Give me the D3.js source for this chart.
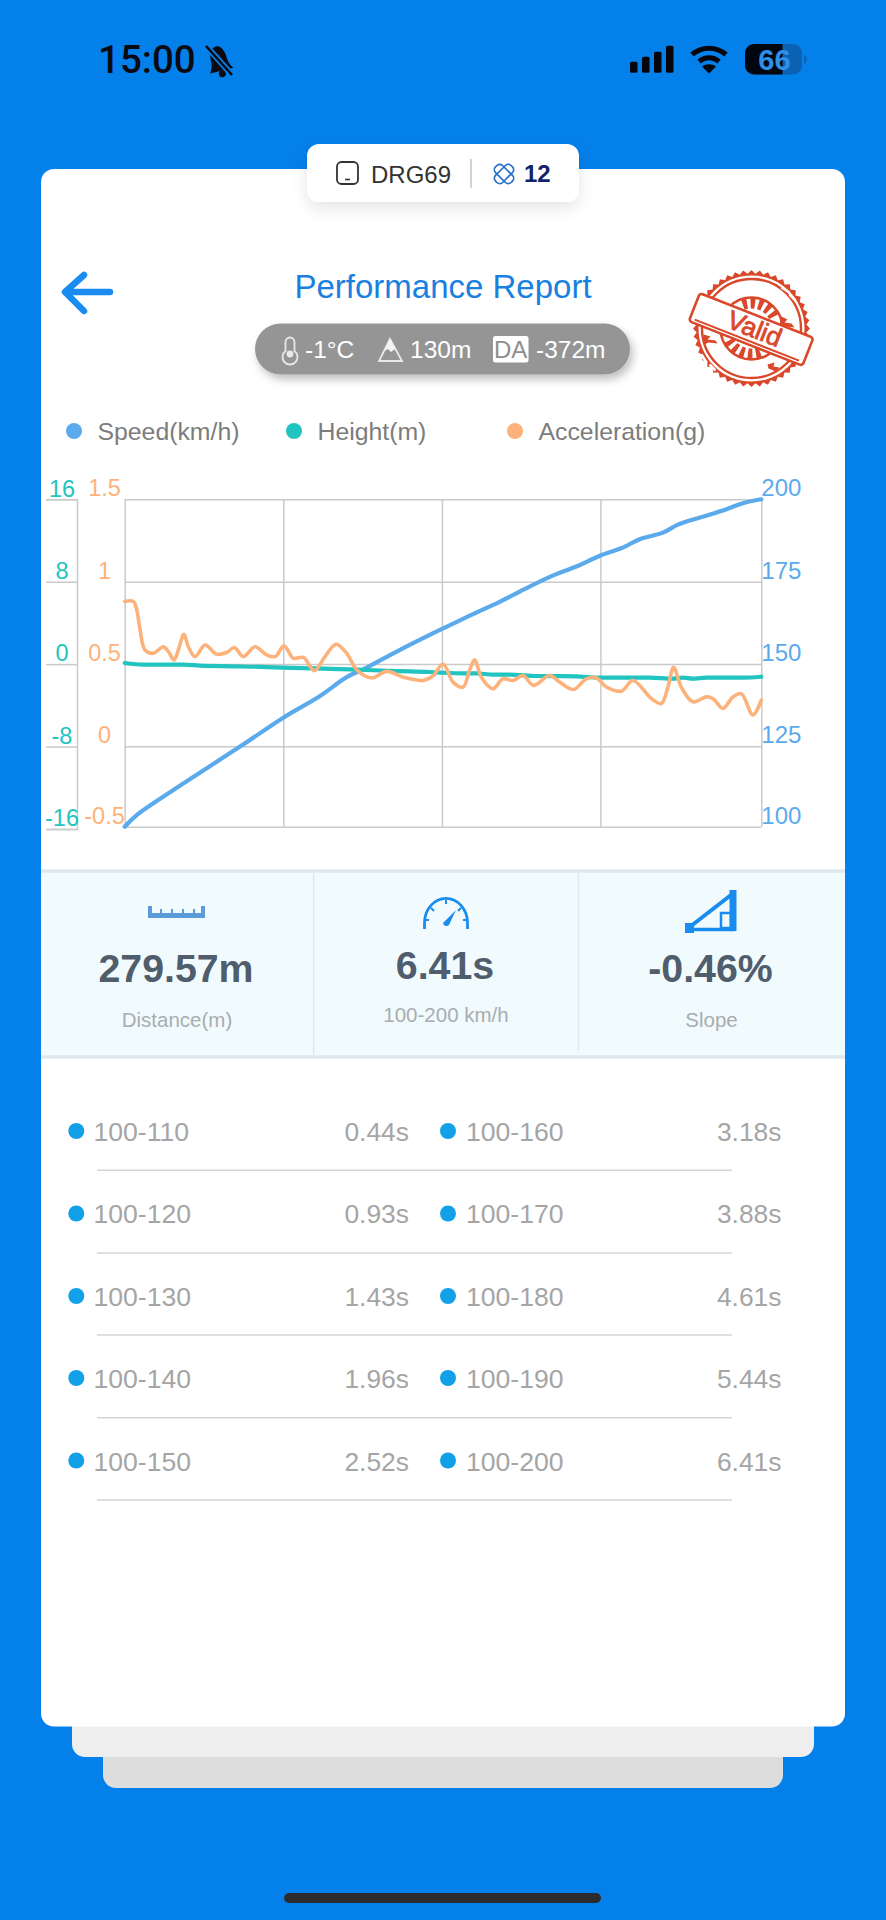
<!DOCTYPE html>
<html>
<head>
<meta charset="utf-8">
<script src="https://cdnjs.cloudflare.com/ajax/libs/d3/7.8.5/d3.min.js"></script>
<style>
html,body{margin:0;padding:0;background:#0480ea;}
svg{display:block;}
text{font-family:"Liberation Sans",Arial,sans-serif;}
</style>
</head>
<body>
<script>
//data
const speedTime=[0,0.121,0.49,1.161,1.597,1.967,2.235,2.436,2.772,3.205,3.406,3.54,3.775,4.01,4.21,4.346,4.547,4.78,5.02,5.185,5.42,5.57,5.82,6.06,6.225,6.41];
const speedValues=[100,103.6,111.4,124.9,133.7,140.3,146,148.9,154.3,160.8,163.7,165.6,168.9,172.5,175.5,177.3,179.6,182.8,185.4,187.9,189.9,192.3,194.7,197,198.8,200];

const heightTime=[0,0.188,0.591,0.758,1.094,1.43,1.597,1.933,2.269,2.436,2.772,3.074,3.205,3.406,3.54,3.708,3.876,4.144,4.547,4.78,5.285,5.52,5.621,5.722,5.856,6.225,6.41];
const heightValues=[0.11,-0.05,-0.05,-0.15,-0.21,-0.28,-0.34,-0.41,-0.5,-0.57,-0.67,-0.76,-0.83,-0.89,-0.89,-1.02,-1.02,-1.15,-1.18,-1.31,-1.31,-1.41,-1.31,-1.41,-1.31,-1.31,-1.22];

const accelTime=[0,0.087,0.121,0.154,0.205,0.289,0.389,0.44,0.497,0.54,0.597,0.641,0.708,0.809,0.926,1.027,1.104,1.195,1.312,1.43,1.514,1.604,1.698,1.799,1.91,2.017,2.128,2.235,2.336,2.487,2.638,2.806,3.007,3.108,3.205,3.306,3.406,3.474,3.524,3.591,3.708,3.809,3.91,4.01,4.118,4.279,4.38,4.52,4.648,4.749,4.85,5,5.118,5.302,5.403,5.47,5.527,5.604,5.722,5.856,5.923,6.024,6.124,6.208,6.326,6.41];
const accelValues=[0.88,0.88,0.83,0.71,0.585,0.565,0.605,0.575,0.525,0.585,0.68,0.605,0.545,0.615,0.56,0.57,0.6,0.545,0.605,0.555,0.545,0.61,0.535,0.54,0.46,0.545,0.62,0.565,0.465,0.415,0.455,0.42,0.4,0.43,0.5,0.39,0.36,0.465,0.525,0.42,0.35,0.41,0.4,0.43,0.37,0.43,0.39,0.345,0.41,0.415,0.36,0.335,0.4,0.29,0.26,0.36,0.48,0.36,0.27,0.3,0.29,0.23,0.3,0.32,0.19,0.28];

const speedTicks=[100,125,150,175,200];
const accelTicks=[-0.5,0,0.5,1,1.5];
const heightTicks=[-16,-8,0,8,16];
const timeTicks=[0,1.597,3.194,4.79,6.41];

const splitNames=["100-110","100-120","100-130","100-140","100-150","100-160","100-170","100-180","100-190","100-200"];
const splitTimes=["0.44s","0.93s","1.43s","1.96s","2.52s","3.18s","3.88s","4.61s","5.44s","6.41s"];

const legendNames=["Speed(km/h)","Height(m)","Acceleration(g)"];
const statValues=["279.57m","6.41s","-0.46%"];
const statNames=["Distance(m)","100-200 km/h","Slope"];

//constants
const w=886;
const h=1920;
const blue="#5aaaec";
const teal="#22c4bf";
const orange="#fdb27c";
const gridColor="#cacaca";
const iconBlue="#1a8cf0";

const svg=d3.select("body").append("svg").attr("width",w).attr("height",h);

const defs=svg.append("defs");
const soft=defs.append("filter").attr("id","soft").attr("x","-30%").attr("y","-50%").attr("width","160%").attr("height","220%");
soft.append("feDropShadow").attr("dx",0).attr("dy",6).attr("stdDeviation",8).attr("flood-color","#000").attr("flood-opacity",0.1);
const pillShadow=defs.append("filter").attr("id","pillShadow").attr("x","-10%").attr("y","-30%").attr("width","120%").attr("height","170%");
pillShadow.append("feDropShadow").attr("dx",3).attr("dy",5).attr("stdDeviation",4).attr("flood-color","#000").attr("flood-opacity",0.25);

//background and cards
svg.append("rect").attr("width",w).attr("height",h).attr("fill","#0480ea");
svg.append("rect").attr("x",103).attr("y",1740).attr("width",680).attr("height",48).attr("rx",13).attr("fill","#dddddd");
svg.append("rect").attr("x",72).attr("y",1710).attr("width",742).attr("height",47).attr("rx",13).attr("fill","#eeeeee");
svg.append("rect").attr("x",41).attr("y",169).attr("width",804).attr("height",1557.5).attr("rx",13).attr("fill","#fff");
svg.append("rect").attr("x",284).attr("y",1893).attr("width",317).attr("height",10).attr("rx",5).attr("fill","#2c2c2e");

//status bar
svg.append("text").attr("x",98).attr("y",72.5).attr("font-size",38.5).text("15:00")
    .style("font-family","Roboto").attr("font-weight",500).attr("fill","#0a0a12");
const bell=svg.append("g").attr("fill","#0a0a12").attr("transform","rotate(-14,219,60)");
bell.append("path").attr("d","M219 46c5 0 8 6 8 13c0 6 2 9 4 12h-24c2-3 4-6 4-12c0-7 3-13 8-13z");
bell.append("circle").attr("cx",219).attr("cy",74).attr("r",3.5);
svg.append("line").attr("x1",207).attr("y1",47).attr("x2",233).attr("y2",76).attr("stroke","#0480ea").attr("stroke-width",6);
svg.append("line").attr("x1",206).attr("y1",46).attr("x2",232).attr("y2",75).attr("stroke","#0a0a12").attr("stroke-width",2.6);

const signal=svg.append("g").attr("fill","#06060c");
[[630,61.7],[642,56.7],[654,51.7],[666,45.7]].forEach(b=>{
    signal.append("rect").attr("x",b[0]).attr("y",b[1]).attr("width",7.5).attr("height",72.7-b[1]).attr("rx",1.5)
});
const wifi=svg.append("g").attr("fill","none").attr("stroke","#06060c").attr("stroke-width",5);
wifi.append("path").attr("d","M692 54.5c10-8.5 24-8.5 34 0");
wifi.append("path").attr("d","M699 61.5c6-5 14-5 20 0");
svg.append("path").attr("d","M702 66.5c4-3 10-3 14 0l-7 7z").attr("fill","#06060c");

svg.append("rect").attr("x",745).attr("y",44).attr("width",57).attr("height",30.5).attr("rx",9).attr("fill","#0b62b2");
svg.append("path").attr("d","M782.5 44h-28.5a9 9 0 0 0 -9 9v12.5a9 9 0 0 0 9 9h28.5z").attr("fill","#02060e");
svg.append("path").attr("d","M804 55a5 5 0 0 1 0 9z").attr("fill","#0b62b2");
svg.append("text").attr("x",774.5).attr("y",70).attr("text-anchor","middle").attr("font-size",29).attr("font-weight",700).attr("fill","#2f8fe8").text("66");

//top tab
svg.append("rect").attr("x",307).attr("y",144).attr("width",272).attr("height",58).attr("rx",12).attr("fill","#fff").attr("filter","url(#soft)");
svg.append("rect").attr("x",337).attr("y",162).attr("width",21).attr("height",22).attr("rx",4.5).attr("fill","none").attr("stroke","#333").attr("stroke-width",1.8);
svg.append("line").attr("x1",345).attr("y1",179.5).attr("x2",350).attr("y2",179.5).attr("stroke","#333").attr("stroke-width",1.6);
svg.append("text").attr("x",371).attr("y",182.5).attr("font-size",24).attr("fill","#333").text("DRG69");
svg.append("line").attr("x1",471).attr("y1",159).attr("x2",471).attr("y2",188).attr("stroke","#bcbcbc").attr("stroke-width",1.3);
const badge=svg.append("g").attr("fill","none").attr("stroke","#2a70c6").attr("stroke-width",1.7).attr("transform","translate(504,174) rotate(45)");
badge.append("rect").attr("x",-11).attr("y",-5).attr("width",22).attr("height",10).attr("rx",4);
badge.append("rect").attr("x",-5).attr("y",-11).attr("width",10).attr("height",22).attr("rx",4);
svg.append("text").attr("x",524).attr("y",182).attr("font-size",24).attr("font-weight",700).attr("fill","#12226a").text("12");

//title row
svg.append("path").attr("d","M110 292H66M84 275L65 292L84 311").attr("fill","none").attr("stroke",iconBlue).attr("stroke-width",6.5).attr("stroke-linecap","round").attr("stroke-linejoin","round");
svg.append("text").attr("x",443).attr("y",298).attr("text-anchor","middle").attr("font-size",33).attr("fill","#1a80e0").text("Performance Report");

//weather pill
svg.append("rect").attr("x",255).attr("y",323.5).attr("width",375).attr("height",51).attr("rx",25.5).attr("fill","#959595").attr("filter","url(#pillShadow)");
const pillText=[["-1°C",305],["130m",410],["-372m",536]];
svg.append("g").selectAll("text").data(pillText).enter().append("text")
    .attr("x",d=>d[1]).attr("y",358).attr("font-size",24.5).attr("fill","#fff").text(d=>d[0]);
const pillIcons=svg.append("g").attr("fill","none").attr("stroke","#e8e8e8").attr("stroke-width",1.8);
pillIcons.append("path").attr("d","M285.5 342a4.5 4.5 0 0 1 9 0v9a7.5 7.5 0 1 1 -9 0z");
pillIcons.append("circle").attr("cx",290).attr("cy",354).attr("r",2.5).attr("fill","#e8e8e8");
pillIcons.append("path").attr("d","M390 339L379 361H402Z");
svg.append("path").attr("d","M390 339L384 351L388 349L391 352L395 349L397 351Z").attr("fill","#f4f4f4");
svg.append("rect").attr("x",493).attr("y",336).attr("width",35.5).attr("height",26.5).attr("rx",2.5).attr("fill","#fff");
svg.append("text").attr("x",510.7).attr("y",357.5).attr("text-anchor","middle").attr("font-size",24).attr("fill","#8e8e8e").text("DA");

//valid stamp
const stampRed="#d9482a";
const stamp=svg.append("g").attr("transform","translate(751.5,328.5)");
const teeth=d3.range(88).map(i=>[i*Math.PI*2/88,i%2?55:58.5]);
stamp.append("path").attr("d",d3.lineRadial().curve(d3.curveLinearClosed)(teeth)).attr("fill",stampRed);
stamp.append("circle").attr("r",53).attr("fill","#fff");
stamp.append("circle").attr("r",49.5).attr("fill","none").attr("stroke",stampRed).attr("stroke-width",2.4);
stamp.append("circle").attr("r",31).attr("fill","none").attr("stroke",stampRed).attr("stroke-width",2.5);
const rays=d3.arc().innerRadius(20).outerRadius(31);
[-36,-18,0,18,36,144,162,180,198,216].forEach(a=>{
    stamp.append("path").attr("transform","rotate(21)")
    .attr("d",rays({startAngle:(a-5)*Math.PI/180,endAngle:(a+5)*Math.PI/180})).attr("fill",stampRed);
});
//worn patches of the stamp
const wornRed="M30 -12l6 3l-3 3l7 1l3 4l-8 -1l-3 3l-4 -5zM-48 6l7 2l-3 3l8 1l2 3l-9 -1l-4 2zM16 36l7 -2l-1 4l6 1l-4 4l-7 -3z";
stamp.append("path").attr("d",wornRed).attr("fill",stampRed);
const wornWhite="M30 -41l8 5M38 -34l6 6M-50 26l5 8M-42 36l6 6";
stamp.append("path").attr("d",wornWhite).attr("fill","none").attr("stroke","#fff").attr("stroke-width",2.5);
const banner=stamp.append("g").attr("transform","rotate(21.5)");
banner.append("rect").attr("x",-61).attr("y",-14).attr("width",122).attr("height",30).attr("rx",3).attr("fill","#fff").attr("stroke",stampRed).attr("stroke-width",2.6);
banner.append("line").attr("x1",-56).attr("y1",12.5).attr("x2",56).attr("y2",12.5).attr("stroke",stampRed).attr("stroke-width",2);
banner.append("text").attr("x",3).attr("y",8).attr("text-anchor","middle").attr("font-size",26).attr("stroke",stampRed).attr("stroke-width",0.8).attr("fill",stampRed).text("Valid");

//legend
const legendX=[74,294,515];
const legendColors=[blue,teal,orange];
const legend=svg.append("g").selectAll("g").data(legendNames).enter().append("g");
legend.append("circle").attr("cx",(d,i)=>legendX[i]).attr("cy",431).attr("r",8).attr("fill",(d,i)=>legendColors[i]);
legend.append("text").attr("x",(d,i)=>legendX[i]+23.5).attr("y",440).attr("font-size",24.8).attr("fill","#7c7c7c").text(d=>d);

//scales
const plotL=124.7,plotR=761.3;
const x=d3.scaleLinear().domain([0,6.41]).range([plotL,plotR]);
//bottom band of the grid is a bit shorter than the others
const bandY=[826.7,746.3,664,581.7,499.3];
const ySpeed=d3.scaleLinear().domain(speedTicks).range(bandY);
const yAccel=d3.scaleLinear().domain(accelTicks).range(bandY);
const yHeight=d3.scaleLinear().domain([-16,16]).range([829,499.3]);

//grid
const grid=svg.append("g");
grid.append("g").attr("class","gridY").attr("transform","translate("+plotR+",0)")
    .call(d3.axisRight(ySpeed).tickValues(speedTicks).tickSize(-(plotR-plotL)).tickSizeOuter(0).tickFormat(d=>d));
grid.append("g").attr("class","gridX").attr("transform","translate(0,"+bandY[0]+")")
    .call(d3.axisBottom(x).tickValues(timeTicks).tickSize(-(bandY[0]-bandY[4])).tickSizeOuter(0).tickFormat(""));
grid.selectAll("line,path").attr("stroke",gridColor).attr("stroke-width",1.5);
grid.selectAll(".domain").remove();
d3.selectAll(".gridY text").attr("x",0).attr("dy",0).attr("y",-3.5)
    .attr("font-size",24).attr("fill",blue).attr("text-anchor","start").style("font-family","Liberation Sans");

//left axes
const heightAxis=svg.append("g").attr("transform","translate(77,0)")
    .call(d3.axisLeft(yHeight).tickValues(heightTicks).tickSize(31).tickFormat(d=>d));
heightAxis.selectAll("line,path").attr("stroke",gridColor).attr("stroke-width",1.5);
heightAxis.selectAll("text").attr("x",-15).attr("dy",0).attr("y",-3.3).attr("text-anchor","middle")
    .attr("font-size",23.5).attr("fill",teal).style("font-family","Liberation Sans");

const accelAxis=svg.append("g").attr("transform","translate(104.5,0)")
    .call(d3.axisLeft(yAccel).tickValues(accelTicks).tickSize(0).tickFormat(d=>d));
accelAxis.select(".domain").remove();
accelAxis.selectAll("text").attr("x",0).attr("dy",0).attr("y",-3.5).attr("text-anchor","middle")
    .attr("font-size",23.5).attr("fill",orange).style("font-family","Liberation Sans");

//lines
const lineOf=(times,scale,curve)=>d3.line().x((d,i)=>x(times[i])).y(d=>scale(d)).curve(curve);
const lines=svg.append("g").attr("fill","none").attr("stroke-linecap","round").attr("stroke-linejoin","round");
lines.append("path").attr("d",lineOf(speedTime,ySpeed,d3.curveCatmullRom)(speedValues)).attr("stroke",blue).attr("stroke-width",4.2);
lines.append("path").attr("d",lineOf(heightTime,yHeight,d3.curveMonotoneX)(heightValues)).attr("stroke",teal).attr("stroke-width",4.2);
lines.append("path").attr("d",lineOf(accelTime,yAccel,d3.curveCatmullRom)(accelValues)).attr("stroke",orange).attr("stroke-width",3.6);

//stats panel
svg.append("rect").attr("x",41).attr("y",871).attr("width",804).attr("height",186).attr("fill","#f1fbfd");
[871,1057].forEach(y=>svg.append("line").attr("x1",41).attr("x2",845).attr("y1",y).attr("y2",y).attr("stroke","#dce8ea").attr("stroke-width",3.5));
[[313.6,1055],[578.5,1050]].forEach(d=>svg.append("line").attr("x1",d[0]).attr("x2",d[0]).attr("y1",873).attr("y2",d[1]).attr("stroke","#dfe8ea").attr("stroke-width",1.5));

const statX=[176,445,710.5];
const statBase=[982,979,982];
const labelBase=[1026.7,1022,1026.7];
svg.append("g").selectAll("text").data(statValues).enter().append("text")
    .attr("x",(d,i)=>statX[i]).attr("y",(d,i)=>statBase[i]).attr("text-anchor","middle")
    .attr("font-size",39.3).attr("font-weight",700).attr("fill","#505d6d").text(d=>d);
svg.append("g").selectAll("text").data(statNames).enter().append("text")
    .attr("x",(d,i)=>statX[i]+1).attr("y",(d,i)=>labelBase[i]).attr("text-anchor","middle")
    .attr("font-size",20.5).attr("fill","#a8adb0").text(d=>d);

//stat icons
svg.append("path").attr("d","M148 906H152V913H160V909H162V913H171V909H173V913H182V909H184V913H193V909H195V913H201V906H205V918H148Z").attr("fill","#5b9bd8");
const gauge=svg.append("g").attr("fill","none").attr("stroke",iconBlue).attr("stroke-width",2.8);
gauge.append("path").attr("d","M424.5 929V923a21 24 0 0 1 43 0V929");
gauge.append("path").attr("d","M446 900v4M431 908l3 3M461 908l-3 3M425 920h4M467 920h-4").attr("stroke-width",2);
svg.append("path").attr("d","M456 910L449 925a3.5 3.5 0 0 1 -6 -2z").attr("fill",iconBlue);
const slope=svg.append("g").attr("fill","none").attr("stroke",iconBlue);
slope.append("path").attr("d","M690 929.5H735").attr("stroke-width",3.5);
slope.append("path").attr("d","M691 926L731 895").attr("stroke-width",4);
slope.append("path").attr("d","M733 890V931").attr("stroke-width",7);
slope.append("rect").attr("x",721).attr("y",913).attr("width",10).attr("height",15).attr("stroke-width",2.5);
svg.append("rect").attr("x",685).attr("y",923).attr("width",9).attr("height",10).attr("fill",iconBlue);

//split list
const leftCount=5;
const rowBase=[1141,1223,1306,1388,1470.7];
const rowDot=[1131,1213.5,1296,1378,1460.5];
const rowLine=[1170.3,1253,1335,1417.7,1500];
const splitRow=(d,i)=>i%leftCount;
const isRight=(d,i)=>i>=leftCount;
const splits=svg.append("g").selectAll("g").data(splitNames).enter().append("g");
splits.append("circle").attr("cx",(d,i)=>isRight(d,i)?448:76.3).attr("cy",(d,i)=>rowDot[splitRow(d,i)]).attr("r",8).attr("fill","#12a0e8");
splits.append("text").attr("x",(d,i)=>isRight(d,i)?466:93.5).attr("y",(d,i)=>rowBase[splitRow(d,i)]).attr("font-size",26.6).attr("fill","#a5a5a5").text(d=>d);
splits.append("text").attr("x",(d,i)=>isRight(d,i)?781.5:409).attr("y",(d,i)=>rowBase[splitRow(d,i)]).attr("text-anchor","end").attr("font-size",26.4).attr("fill","#a5a5a5").text((d,i)=>splitTimes[i]);
svg.append("g").selectAll("line").data(rowLine).enter().append("line")
    .attr("x1",97).attr("x2",732).attr("y1",d=>d).attr("y2",d=>d).attr("stroke","#d5d5d5").attr("stroke-width",1.5);
</script>
</body>
</html>
